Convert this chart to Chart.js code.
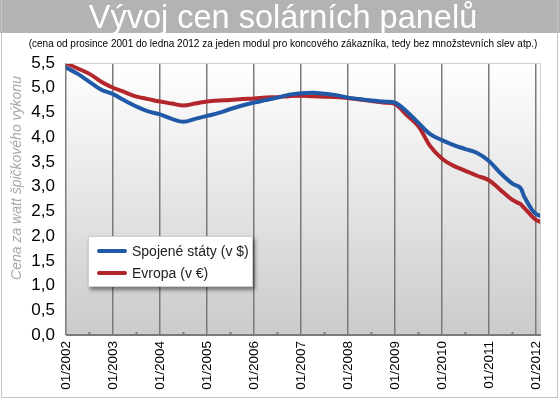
<!DOCTYPE html>
<html>
<head>
<meta charset="utf-8">
<script src="https://cdn.jsdelivr.net/npm/chart.js@4"></script>
<style>
  html, body { margin: 0; padding: 0; background: #fff; }
  #wrap { position: relative; width: 560px; height: 399px; }
  #legend {
    position: absolute; left: 88px; top: 236px; width: 163px; height: 49px;
    background: #fff; border: 1px solid #d0d0d0;
    box-shadow: 2px 3px 4px rgba(0,0,0,0.45);
    font: 14px "Liberation Sans", Arial, sans-serif; color: #222;
  }
  .item { position: absolute; left: 8px; height: 20px; line-height: 20px; white-space: nowrap; }
  .swatch { display: inline-block; width: 30px; height: 4px; border-radius: 2px; vertical-align: middle; margin-right: 5px; position: relative; top: -1px; }
</style>
</head>
<body>
<div id="wrap">
  <canvas id="chart" width="560" height="399"></canvas>
  <div id="legend"></div>
</div>
<script>
// months since 01/2002
const months = [0, 3, 6, 9, 12, 15, 18, 21, 24, 27, 30, 33, 36, 39, 42, 45, 48, 51, 54, 57, 60,
                63, 66, 69, 72, 75, 78, 81, 84, 87, 90, 93, 96, 99, 102, 105, 108, 111, 114, 116, 117, 119, 120, 121];

const usPrices = [5.41, 5.28, 5.12, 4.96, 4.87, 4.74, 4.62, 4.52, 4.46, 4.37, 4.31, 4.37, 4.43, 4.49, 4.57, 4.64, 4.70,
                  4.75, 4.80, 4.86, 4.89, 4.90, 4.88, 4.85, 4.80, 4.77, 4.74, 4.72, 4.70, 4.52, 4.29, 4.06, 3.94,
                  3.84, 3.76, 3.68, 3.52, 3.27, 3.06, 2.98, 2.80, 2.53, 2.45, 2.41];

const euPrices = [5.50, 5.39, 5.28, 5.12, 5.00, 4.91, 4.82, 4.77, 4.72, 4.68, 4.64, 4.68, 4.72, 4.74, 4.75, 4.77, 4.78,
                  4.80, 4.81, 4.83, 4.84, 4.83, 4.82, 4.81, 4.79, 4.76, 4.73, 4.70, 4.67, 4.45, 4.22, 3.82, 3.57,
                  3.42, 3.32, 3.22, 3.13, 2.93, 2.73, 2.65, 2.57, 2.40, 2.33, 2.29];

const seriesLabels = ['Spojené státy (v $)', 'Evropa (v €)'];
const seriesColors = ['#2059a8', '#b3262b'];

const yTicks = [0, 0.5, 1, 1.5, 2, 2.5, 3, 3.5, 4, 4.5, 5, 5.5];
const firstYear = 2002;
const lastYear = 2012;

const title = 'Vývoj cen solárních panelů';
const subtitle = '(cena od prosince 2001 do ledna 2012 za jeden modul pro koncového zákazníka, tedy bez množstevních slev atp.)';
const yTitle = 'Cena za watt špičkového výkonu';

const FONT = '"Liberation Sans", Arial, sans-serif';

function toPoints(vals) {
    return vals.map((v, i) => ({ x: months[i], y: v }));
}

// background, title band, plot gradient, frame
const decor = {
    id: 'decor',
    beforeDraw(chart) {
        const ctx = chart.ctx;
        const a = chart.chartArea;
        ctx.save();
        ctx.fillStyle = '#fff';
        ctx.fillRect(0, 0, chart.width, chart.height);
        ctx.fillStyle = '#b3b3b3';
        ctx.fillRect(0, 0, chart.width, 33);
        ctx.fillStyle = '#fff';
        ctx.font = '32.5px ' + FONT;
        ctx.textAlign = 'center';
        ctx.textBaseline = 'alphabetic';
        ctx.fillText(title, 283, 28);
        ctx.fillStyle = '#000';
        ctx.font = '10px ' + FONT;
        ctx.fillText(subtitle, 283, 47);

        const g = ctx.createLinearGradient(0, a.top, 0, a.bottom);
        g.addColorStop(0, '#ffffff');
        g.addColorStop(1, '#cbcbcb');
        ctx.fillStyle = g;
        ctx.fillRect(a.left, a.top, a.right - a.left, a.bottom - a.top);

        // y axis title
        ctx.translate(17, 178);
        ctx.rotate(-Math.PI / 2);
        ctx.fillStyle = '#a8a8a8';
        ctx.font = 'italic 14px ' + FONT;
        ctx.textBaseline = 'middle';
        ctx.fillText(yTitle, 0, 0);
        ctx.restore();
    },
    afterDraw(chart) {
        const ctx = chart.ctx;
        const a = chart.chartArea;
        const xs = chart.scales.x;
        ctx.save();
        ctx.strokeStyle = '#cfcfcf';
        ctx.lineWidth = 1;
        ctx.beginPath();
        ctx.moveTo(a.left, a.top + 0.5);
        ctx.lineTo(a.right - 0.5, a.top + 0.5);
        ctx.lineTo(a.right - 0.5, a.bottom);
        ctx.stroke();
        ctx.strokeStyle = '#7a7a7a';
        ctx.lineWidth = 2;
        ctx.beginPath();
        ctx.moveTo(a.left, a.bottom);
        ctx.lineTo(a.right, a.bottom);
        ctx.stroke();
        // half-year marks
        ctx.lineWidth = 2;
        for (let y = firstYear; y < lastYear; y++) {
            const px = xs.getPixelForValue((y - firstYear) * 12 + 6);
            ctx.beginPath();
            ctx.moveTo(px, a.bottom - 3);
            ctx.lineTo(px, a.bottom);
            ctx.stroke();
        }
        // outer frame
        ctx.strokeStyle = '#c4c4c4';
        ctx.lineWidth = 1;
        ctx.strokeRect(1.5, -1, 556, 398.5);
        ctx.restore();
    }
};

const chart = new Chart(document.getElementById('chart'), {
    type: 'line',
    data: {
        datasets: [
            { label: seriesLabels[0], data: toPoints(usPrices), borderColor: seriesColors[0] },
            { label: seriesLabels[1], data: toPoints(euPrices), borderColor: seriesColors[1] }
        ]
    },
    options: {
        responsive: false,
        animation: false,
        layout: { padding: { top: 63, right: 19, bottom: 0, left: 0 } },
        elements: {
            line: { borderWidth: 4, tension: 0.35, borderCapStyle: 'round', borderJoinStyle: 'round' },
            point: { radius: 0 }
        },
        plugins: { legend: { display: false }, tooltip: { enabled: false } },
        scales: {
            x: {
                type: 'linear',
                min: 0,
                max: 121.3,
                afterBuildTicks(scale) {
                    const t = [];
                    for (let y = firstYear; y <= lastYear; y++) t.push({ value: (y - firstYear) * 12 });
                    scale.ticks = t;
                },
                afterFit(scale) { scale.height = 64; },
                ticks: {
                    autoSkip: false,
                    minRotation: 90,
                    maxRotation: 90,
                    padding: 6,
                    color: '#000',
                    font: { family: FONT, size: 13.5 },
                    callback: v => '01/' + (firstYear + Math.round(v / 12))
                },
                grid: { color: '#7a7a7a', lineWidth: 1.5, drawTicks: false },
                border: { display: false }
            },
            y: {
                min: 0,
                max: 5.5,
                afterBuildTicks(scale) { scale.ticks = yTicks.map(v => ({ value: v })); },
                afterFit(scale) { scale.width = 66; },
                ticks: {
                    padding: 11,
                    color: '#000',
                    font: { family: FONT, size: 17 },
                    callback: v => v.toFixed(1).replace('.', ',')
                },
                grid: { display: false, drawTicks: false },
                border: { display: false }
            }
        }
    },
    plugins: [decor]
});

// legend built from the datasets
const legend = document.getElementById('legend');
chart.data.datasets.forEach((ds, i) => {
    const item = document.createElement('div');
    item.className = 'item';
    item.style.top = (4 + i * 22) + 'px';
    item.innerHTML = '<span class="swatch" style="background:' + ds.borderColor + '"></span>' + ds.label;
    legend.appendChild(item);
});
</script>
</body>
</html>
